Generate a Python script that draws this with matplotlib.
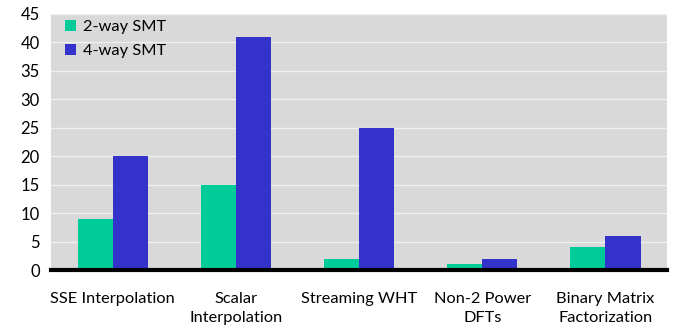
import matplotlib
matplotlib.use("Agg")
import matplotlib.pyplot as plt
import numpy as np

categories = ["SSE Interpolation", "Scalar\nInterpolation", "Streaming WHT", "Non-2 Power\nDFTs", "Binary Matrix\nFactorization"]
smt2 = [9, 15, 2, 1, 4]
smt4 = [20, 41, 25, 2, 6]
yticks = [0, 5, 10, 15, 20, 25, 30, 35, 40, 45]

plt.rcParams['font.family'] = ['Lato', 'DejaVu Sans']
fig = plt.figure(figsize=(6.74, 3.31), dpi=100)
ax = fig.add_axes([0.0757, 0.184, 0.914, 0.774])
ax.set_facecolor('#d9d9d9')
x = np.arange(len(categories))
w = 0.285
ax.bar(x - w/2, smt2, w, color='#00cc99', label='2-way SMT', zorder=3)
ax.bar(x + w/2, smt4, w, color='#3333cc', label='4-way SMT', zorder=3)
ax.set_xlim(-0.5, len(categories) - 0.5)
ax.set_ylim(0, 45)
ax.set_yticks(yticks)
ax.set_yticklabels([str(t) for t in yticks], fontsize=12)
ax.set_xticks(x)
ax.set_xticklabels(categories, fontsize=11.8, linespacing=1.45)
ax.tick_params(axis='x', length=0, pad=16)
ax.tick_params(axis='y', length=0, pad=8)
ax.yaxis.grid(True, color='#f0f0f0', linewidth=1, zorder=0)
for s in ['top', 'right', 'left']:
    ax.spines[s].set_visible(False)
ax.spines['bottom'].set_linewidth(3)
ax.spines['bottom'].set_zorder(5)
ax.legend(loc='upper left', frameon=False, fontsize=11.8, handlelength=0.7, handleheight=0.7,
          handletextpad=0.4, labelspacing=0.6, bbox_to_anchor=(-0.002, 1.035))
fig.savefig("out.png", dpi=100)
